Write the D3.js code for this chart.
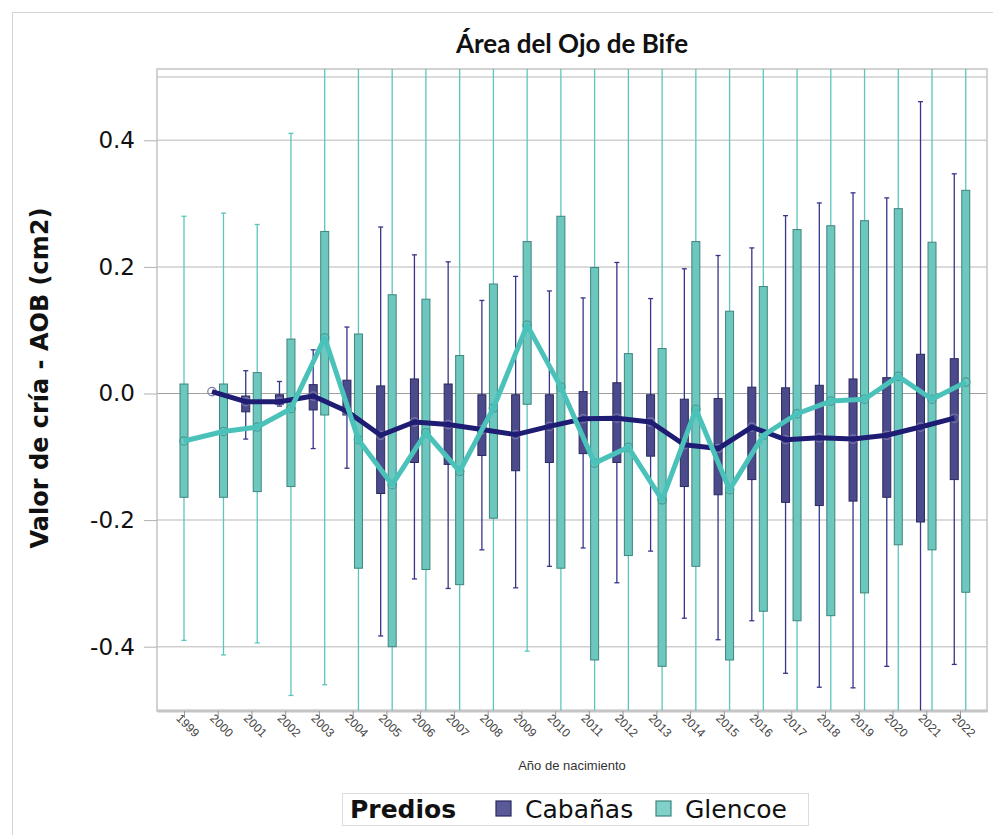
<!DOCTYPE html>
<html>
<head>
<meta charset="utf-8">
<script src="https://d3js.org/d3.v7.min.js"></script>
<style>
  body { margin: 0; background: #fff; }
</style>
</head>
<body>
<div id="chart"></div>
<script>
  // años de nacimiento
  var years = ["1999","2000","2001","2002","2003","2004","2005","2006","2007","2008","2009","2010",
               "2011","2012","2013","2014","2015","2016","2017","2018","2019","2020","2021","2022"];
  var groups = ["Cabañas", "Glencoe"];

  // Cabañas: media, caja (q1,q3) y bigotes (lo,hi)
  var cabMean = [null, 0.003, -0.013, -0.013, -0.004, -0.028, -0.066, -0.045, -0.049, -0.057, -0.065, -0.052,
                 -0.040, -0.039, -0.045, -0.081, -0.087, -0.053, -0.073, -0.070, -0.072, -0.066, -0.053, -0.039];
  var cabQ3   = [null, null, -0.004, -0.002, 0.014, 0.021, 0.012, 0.023, 0.015, -0.002, -0.002, -0.002,
                 0.003, 0.017, -0.002, -0.009, -0.008, 0.010, 0.009, 0.013, 0.023, 0.025, 0.062, 0.055];
  var cabQ1   = [null, null, -0.029, -0.017, -0.026, -0.034, -0.158, -0.109, -0.112, -0.098, -0.122, -0.109,
                 -0.095, -0.109, -0.099, -0.147, -0.160, -0.136, -0.172, -0.177, -0.170, -0.164, -0.203, -0.136];
  var cabHi   = [null, null, 0.036, 0.019, 0.069, 0.105, 0.263, 0.219, 0.208, 0.147, 0.185, 0.162,
                 0.151, 0.207, 0.150, 0.197, 0.218, 0.230, 0.281, 0.301, 0.317, 0.309, 0.461, 0.347];
  var cabLo   = [null, null, -0.072, -0.020, -0.087, -0.118, -0.383, -0.293, -0.308, -0.247, -0.307, -0.273,
                 -0.244, -0.299, -0.249, -0.355, -0.389, -0.359, -0.442, -0.464, -0.465, -0.431, -0.550, -0.428];

  // Glencoe
  var gleMean = [-0.075, -0.060, -0.053, -0.024, 0.088, -0.073, -0.144, -0.062, -0.123, -0.023, 0.108, 0.010,
                 -0.110, -0.085, -0.168, -0.025, -0.152, -0.066, -0.032, -0.012, -0.009, 0.027, -0.009, 0.018];
  var gleQ3   = [0.015, 0.015, 0.033, 0.086, 0.256, 0.094, 0.156, 0.149, 0.060, 0.173, 0.240, 0.280,
                 0.199, 0.063, 0.071, 0.240, 0.130, 0.169, 0.259, 0.265, 0.273, 0.292, 0.239, 0.321];
  var gleQ1   = [-0.164, -0.164, -0.155, -0.147, -0.034, -0.276, -0.400, -0.278, -0.302, -0.197, -0.017, -0.276,
                 -0.421, -0.256, -0.431, -0.273, -0.421, -0.344, -0.359, -0.351, -0.315, -0.239, -0.247, -0.314];
  var gleHi   = [0.280, 0.285, 0.267, 0.411, 0.60, 0.60, 0.60, 0.60, 0.60, 0.60, 0.60, 0.60,
                 0.60, 0.60, 0.60, 0.60, 0.60, 0.60, 0.60, 0.60, 0.60, 0.60, 0.60, 0.60];
  var gleLo   = [-0.390, -0.413, -0.394, -0.477, -0.460, -0.60, -0.60, -0.60, -0.60, -0.60, -0.407, -0.60,
                 -0.60, -0.60, -0.60, -0.60, -0.60, -0.60, -0.60, -0.60, -0.60, -0.60, -0.60, -0.60];

  var yTicks = [-0.4, -0.2, 0.0, 0.2, 0.4];

  var width = 993, height = 835;
  var plot = { left: 157, right: 987, top: 69, bottom: 711 };

  var colors = {
    "Cabañas": { fill: "#4b4a8b", stroke: "#2b2960", whisker: "#37348a", line: "#1f1c74" },
    "Glencoe": { fill: "#6cc8bf", stroke: "#3f847e", whisker: "#5cc6be", line: "#4ac2ba" }
  };

  var series = {
    "Cabañas": { mean: cabMean, q1: cabQ1, q3: cabQ3, lo: cabLo, hi: cabHi },
    "Glencoe": { mean: gleMean, q1: gleQ1, q3: gleQ3, lo: gleLo, hi: gleHi }
  };

  var svg = d3.select("#chart").append("svg")
    .attr("width", width).attr("height", height)
    .style("font-family", "DejaVu Sans, sans-serif");

  // outer frame
  svg.append("rect").attr("x", 12.5).attr("y", 12.5).attr("width", width).attr("height", height)
    .attr("fill", "none").attr("stroke", "#d4d4d4");

  var x = d3.scalePoint().domain(years).range([plot.left, plot.right]).padding(0.8);
  var y = d3.scaleLinear().domain([-0.5, 0.5]).range([710, 77]);

  // position of a group inside its year (only groups present in that year share the slot)
  function xpos(g, i) {
    var present = groups.filter(function (k) { return series[k].mean[i] != null; });
    var sub = d3.scaleBand().domain(present).range([-11.5, 11.5]);
    return x(years[i]) + sub(g) + sub.bandwidth() / 2;
  }

  svg.append("defs").append("clipPath").attr("id", "clip")
    .append("rect").attr("x", plot.left).attr("y", plot.top)
    .attr("width", plot.right - plot.left).attr("height", plot.bottom - plot.top);

  // grid lines
  var grid = svg.append("g");
  grid.selectAll("line").data(yTicks.concat([0.5, -0.5])).join("line")
    .attr("x1", plot.left).attr("x2", plot.right)
    .attr("y1", function (d) { return y(d); }).attr("y2", function (d) { return y(d); })
    .attr("stroke", function (d) { return d === 0 ? "#a0a0a0" : "#cfcfcf"; })
    .attr("stroke-width", function (d) { return d === 0 ? 1.2 : 1.5; });

  // plot frame
  svg.append("rect").attr("x", plot.left).attr("y", plot.top)
    .attr("width", plot.right - plot.left).attr("height", plot.bottom - plot.top)
    .attr("fill", "none").attr("stroke", "#c4c4c4").attr("stroke-width", 1.5);

  var marks = svg.append("g").attr("clip-path", "url(#clip)");
  var boxW = 8, capW = 5;

  groups.forEach(function (g) {
    var s = series[g], c = colors[g];
    var idx = d3.range(years.length).filter(function (i) { return s.q1[i] != null; });
    var gg = marks.append("g");
    // whiskers
    gg.selectAll(".wh").data(idx).join("line").attr("class", "wh")
      .attr("x1", function (i) { return xpos(g, i); }).attr("x2", function (i) { return xpos(g, i); })
      .attr("y1", function (i) { return y(s.hi[i]); }).attr("y2", function (i) { return y(s.lo[i]); })
      .attr("stroke", c.whisker).attr("stroke-width", 1.3);
    // caps
    ["hi", "lo"].forEach(function (k) {
      gg.selectAll(".cap-" + k).data(idx).join("line").attr("class", "cap-" + k)
        .attr("x1", function (i) { return xpos(g, i) - capW / 2; })
        .attr("x2", function (i) { return xpos(g, i) + capW / 2; })
        .attr("y1", function (i) { return y(s[k][i]); }).attr("y2", function (i) { return y(s[k][i]); })
        .attr("stroke", c.whisker).attr("stroke-width", 1.3);
    });
    // boxes
    gg.selectAll(".box").data(idx).join("rect").attr("class", "box")
      .attr("x", function (i) { return xpos(g, i) - boxW / 2; })
      .attr("y", function (i) { return y(s.q3[i]); })
      .attr("width", boxW)
      .attr("height", function (i) { return y(s.q1[i]) - y(s.q3[i]); })
      .attr("fill", c.fill).attr("stroke", c.stroke).attr("stroke-width", 1);
  });

  // mean markers (mostly hidden under the lines), then mean lines
  groups.forEach(function (g) {
    var s = series[g], c = colors[g];
    var idx = d3.range(years.length).filter(function (i) { return s.mean[i] != null; });
    marks.append("g").selectAll("circle").data(idx).join("circle")
      .attr("cx", function (i) { return xpos(g, i); })
      .attr("cy", function (i) { return y(s.mean[i]); })
      .attr("r", 4.2).attr("fill", "none")
      .attr("stroke", g === "Cabañas" ? "#7a78ac" : "#3f9e97").attr("stroke-width", 1.2);
  });
  groups.forEach(function (g) {
    var s = series[g], c = colors[g];
    var idx = d3.range(years.length).filter(function (i) { return s.mean[i] != null; });
    var line = d3.line()
      .x(function (i) { return xpos(g, i); })
      .y(function (i) { return y(s.mean[i]); });
    marks.append("path").datum(idx).attr("d", line)
      .attr("fill", "none").attr("stroke", c.line).attr("stroke-width", 5)
      .attr("stroke-linejoin", "round");
  });

  // y axis
  var fmt = d3.format(".1f");
  var yAxis = svg.append("g").attr("transform", "translate(" + plot.left + ",0)")
    .call(d3.axisLeft(y).tickValues(yTicks)
      .tickFormat(function (d) { return fmt(d).replace("\u2212", "-"); })
      .tickSize(13).tickPadding(9));
  yAxis.select(".domain").remove();
  yAxis.selectAll(".tick line").attr("stroke", "#b0b0b0");
  yAxis.selectAll("text").attr("font-size", 23).attr("fill", "#111")
    .attr("font-family", "DejaVu Sans, sans-serif");

  svg.append("text")
    .attr("transform", "translate(48,378) rotate(-90)")
    .attr("text-anchor", "middle")
    .attr("font-size", 24).attr("font-weight", "bold").attr("fill", "#111")
    .text("Valor de cría - AOB (cm2)");

  // x axis
  var xAxis = svg.append("g").attr("transform", "translate(0," + plot.bottom + ")")
    .call(d3.axisBottom(x).tickSize(7).tickSizeOuter(0));
  xAxis.select(".domain").attr("stroke", "#c4c4c4").attr("stroke-width", 2);
  xAxis.selectAll(".tick line").attr("stroke", "#999");
  xAxis.selectAll("text")
    .attr("font-family", "Liberation Sans Narrow, Liberation Sans, sans-serif")
    .attr("font-size", 12).attr("fill", "#444")
    .attr("text-anchor", "start")
    .attr("transform", "translate(-6,5) rotate(45)")
    .attr("dy", "0.35em").attr("y", 0).attr("x", 0);

  svg.append("text")
    .attr("x", (plot.left + plot.right) / 2).attr("y", 770)
    .attr("text-anchor", "middle")
    .attr("font-family", "Liberation Sans Narrow, Liberation Sans, sans-serif")
    .attr("font-size", 13).attr("fill", "#333")
    .text("Año de nacimiento");

  // title
  svg.append("text")
    .attr("x", (plot.left + plot.right) / 2).attr("y", 53)
    .attr("text-anchor", "middle")
    .attr("font-family", "Lato, sans-serif")
    .attr("font-size", 26).attr("font-weight", "bold").attr("fill", "#111")
    .text("Área del Ojo de Bife");

  // legend
  var lg = svg.append("g");
  lg.append("rect").attr("x", 342.5).attr("y", 793.5).attr("width", 466).attr("height", 32)
    .attr("fill", "#fff").attr("stroke", "#dcdcdc");
  lg.append("text").attr("x", 350).attr("y", 818)
    .attr("font-size", 25).attr("font-weight", "bold").attr("fill", "#111").text("Predios");
  var legX = [496, 656];
  groups.forEach(function (g, k) {
    lg.append("rect").attr("x", legX[k]).attr("y", 801).attr("width", 15).attr("height", 15)
      .attr("fill", g === "Cabañas" ? "#5b5a98" : "#7fd1c9")
      .attr("stroke", colors[g].stroke).attr("stroke-width", 1.2);
    lg.append("text").attr("x", legX[k] + 29).attr("y", 818)
      .attr("font-size", 25).attr("fill", "#111").text(g);
  });
</script>
</body>
</html>
